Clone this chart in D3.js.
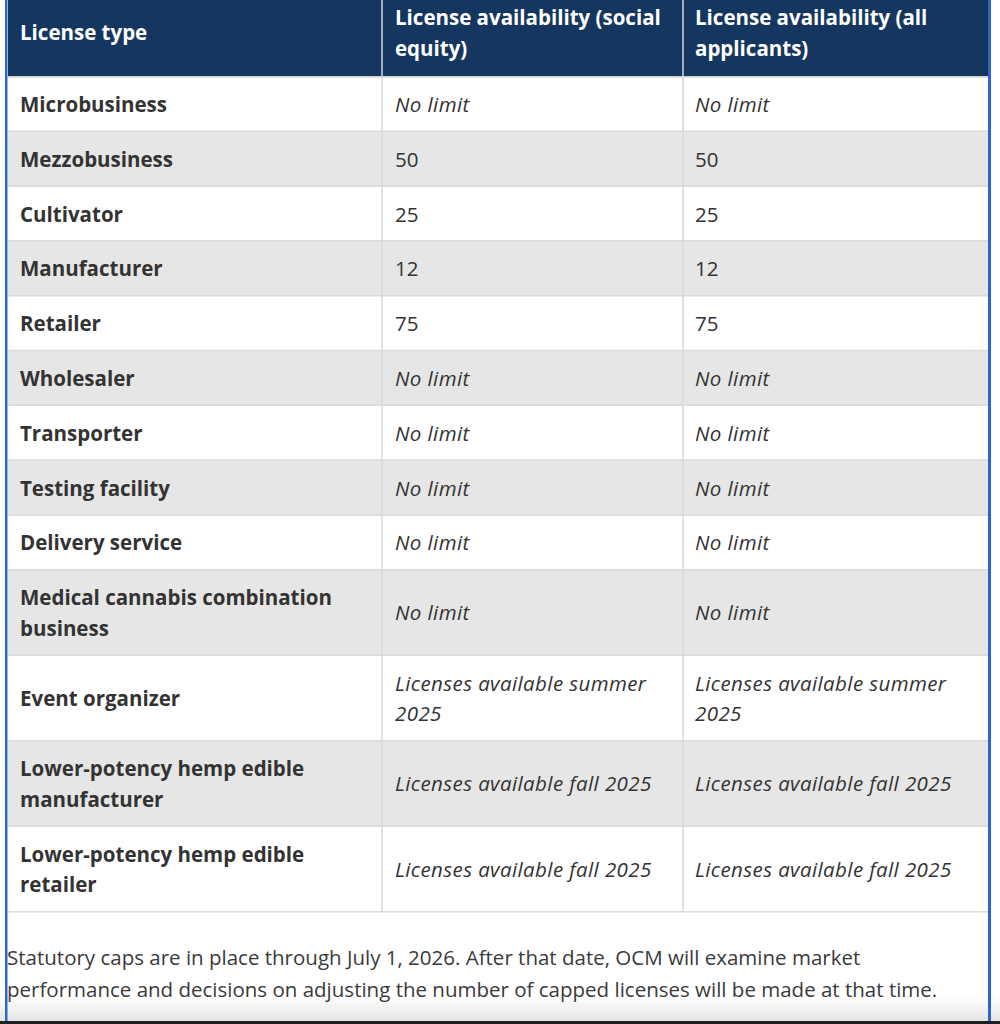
<!DOCTYPE html>
<html><head><meta charset="utf-8">
<script src="https://cdn.jsdelivr.net/npm/d3@7"></script>
<style>
html,body{margin:0;padding:0;background:#fff;}
svg{display:block;}
</style></head><body>
<svg id="chart" width="1000" height="1024"></svg>
<script>
// ---- data ----
const headers = ["License type", "License availability (social equity)", "License availability (all applicants)"];
const licenseTypes = ["Microbusiness", "Mezzobusiness", "Cultivator", "Manufacturer", "Retailer", "Wholesaler", "Transporter", "Testing facility", "Delivery service", "Medical cannabis combination business", "Event organizer", "Lower-potency hemp edible manufacturer", "Lower-potency hemp edible retailer"];
const socialEquity = ["No limit", "50", "25", "12", "75", "No limit", "No limit", "No limit", "No limit", "No limit", "Licenses available summer 2025", "Licenses available fall 2025", "Licenses available fall 2025"];
const allApplicants = ["No limit", "50", "25", "12", "75", "No limit", "No limit", "No limit", "No limit", "No limit", "Licenses available summer 2025", "Licenses available fall 2025", "Licenses available fall 2025"];
const footnote = "Statutory caps are in place through July 1, 2026. After that date, OCM will examine market performance and decisions on adjusting the number of capped licenses will be made at that time.";

// ---- layout ----
const W = 1000, H = 1024;
const colEdges = [8, 382, 683, 988];
const textPad = [12, 13, 12];
const lineH = 30.7, rowPad = 24.1, fontSize = 20.5;
const FONT = "'Open Sans', 'Noto Sans', sans-serif";
const headerTop = -9;
const italicSpacing = 0.4;

const svg = d3.select("#chart");
svg.append("rect").attr("width", W).attr("height", H).attr("fill", "#fff");

const defs = svg.append("defs");
const grad = defs.append("linearGradient").attr("id", "bottomFade").attr("x1", 0).attr("x2", 0).attr("y1", 0).attr("y2", 1);
grad.append("stop").attr("offset", "0%").attr("stop-color", "#ffffff");
grad.append("stop").attr("offset", "100%").attr("stop-color", "#e4e4e4");

// measuring helper
const measure = svg.append("text").attr("font-family", FONT).attr("font-size", fontSize).attr("visibility", "hidden");
function wrapLines(text, maxW, weight, style) {
  measure.attr("font-weight", weight).attr("font-style", style)
    .attr("letter-spacing", style === "italic" ? italicSpacing : 0);
  const words = text.split(" ");
  const lines = [];
  let cur = "";
  words.forEach(w => {
    const test = cur ? cur + " " + w : w;
    measure.text(test);
    if (measure.node().getComputedTextLength() > maxW && cur) {
      lines.push(cur); cur = w;
    } else cur = test;
  });
  if (cur) lines.push(cur);
  return lines;
}

const colX = i => colEdges[i];
const colW = i => colEdges[i + 1] - colEdges[i];

// header
const headerLines = headers.map((h, i) => wrapLines(h, colW(i) - 24, 700, "normal"));
const headerH = rowPad + lineH * d3.max(headerLines, l => l.length);

// rows
const rows = licenseTypes.map((t, i) => {
  const cells = [t, socialEquity[i], allApplicants[i]].map((v, c) => {
    const weight = c === 0 ? 700 : 400;
    const style = c > 0 && isNaN(+v) ? "italic" : "normal";
    return { text: v, weight, style, lines: wrapLines(v, colW(c) - 24, weight, style) };
  });
  const n = d3.max(cells, c => c.lines.length);
  return { cells, h: rowPad + lineH * n, idx: i };
});
let yCur = headerTop + headerH;
rows.forEach(r => { r.y = yCur; yCur += r.h; });
const tableBottom = yCur;

// bottom fade
svg.append("rect").attr("x", 0).attr("y", 996).attr("width", W).attr("height", 25).attr("fill", "url(#bottomFade)");

// header bg
svg.append("rect").attr("x", colEdges[0]).attr("y", headerTop).attr("width", colEdges[3] - colEdges[0]).attr("height", headerH).attr("fill", "#15375f");

// row bgs
svg.append("g").selectAll("rect").data(rows).join("rect")
  .attr("x", colEdges[0]).attr("y", d => d.y).attr("width", colEdges[3] - colEdges[0]).attr("height", d => d.h)
  .attr("fill", d => d.idx % 2 === 0 ? "#ffffff" : "#e6e6e6");

// horizontal grid lines
svg.append("g").selectAll("line").data(rows).join("line")
  .attr("x1", colEdges[0]).attr("x2", colEdges[3])
  .attr("y1", d => d.y + d.h).attr("y2", d => d.y + d.h)
  .attr("stroke", "#dadada").attr("stroke-width", 1.6);
svg.append("line").attr("x1", colEdges[0]).attr("x2", colEdges[3])
  .attr("y1", headerTop + headerH + 0.5).attr("y2", headerTop + headerH + 0.5)
  .attr("stroke", "#d4d4d4").attr("stroke-width", 1.5);

// vertical separators
[1, 2].forEach(c => {
  svg.append("line").attr("x1", colEdges[c]).attr("x2", colEdges[c])
    .attr("y1", headerTop).attr("y2", headerTop + headerH).attr("stroke", "#cfd6e0").attr("stroke-width", 1.5);
  svg.append("line").attr("x1", colEdges[c]).attr("x2", colEdges[c])
    .attr("y1", headerTop + headerH).attr("y2", tableBottom).attr("stroke", "#dadada").attr("stroke-width", 1.6);
});

function drawLines(g, lines, x, yMid, fill, weight, style) {
  const n = lines.length;
  const t = g.append("text").attr("font-family", FONT).attr("font-size", fontSize)
    .attr("font-weight", weight).attr("font-style", style).attr("fill", fill)
    .attr("letter-spacing", style === "italic" ? italicSpacing : 0);
  lines.forEach((l, k) => {
    t.append("tspan").attr("x", x).attr("y", yMid + (k - (n - 1) / 2) * lineH + 8).text(l);
  });
}

const gText = svg.append("g");
headerLines.forEach((ls, c) => drawLines(gText, ls, colX(c) + textPad[c], headerTop + headerH / 2 - 1.5, "#ffffff", 700, "normal"));
rows.forEach(r => {
  r.cells.forEach((cell, c) => drawLines(gText, cell.lines, colX(c) + textPad[c], r.y + r.h / 2, "#333333", cell.weight, cell.style));
});

// footnote
const fnLines = wrapLines(footnote, 960, 400, "normal");
const fn = svg.append("text").attr("font-family", FONT).attr("font-size", fontSize).attr("fill", "#3a3a3a");
fnLines.forEach((l, k) => fn.append("tspan").attr("x", 7).attr("y", 965 + k * 32).text(l));

// side blue bars and bottom line
svg.append("rect").attr("x", 5).attr("y", 0).attr("width", 2.5).attr("height", 1021).attr("fill", "#2c64d2");
svg.append("rect").attr("x", 988).attr("y", 0).attr("width", 3).attr("height", 1021).attr("fill", "#2c64d2");
svg.append("rect").attr("x", 0).attr("y", 1021).attr("width", W).attr("height", 3).attr("fill", "#1e1e1e");
measure.remove();
</script>
</body></html>
